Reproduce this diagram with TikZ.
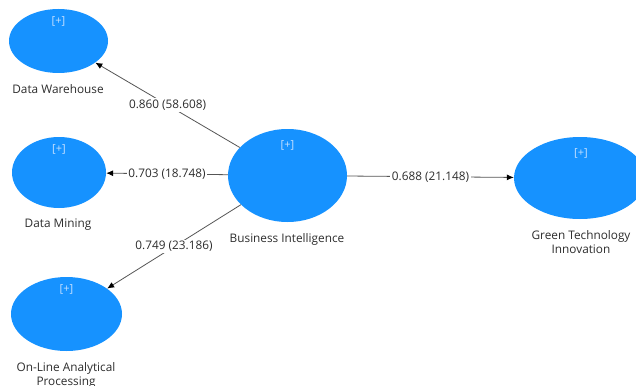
\documentclass[tikz,border=0pt]{standalone}
\usepackage{fontspec}
\setmainfont{Open Sans}
\usetikzlibrary{shapes.geometric,arrows.meta}
\definecolor{lvfill}{RGB}{22,146,255}
\definecolor{plusc}{RGB}{200,226,255}
\definecolor{txt}{RGB}{45,45,45}
\definecolor{linkc}{RGB}{85,85,85}
\tikzset{
  latent/.style={ellipse, fill=lvfill, draw=none, inner sep=0pt},
  plusmark/.style={text=plusc, font=\fontsize{11}{12}\selectfont, inner sep=0pt},
  lvname/.style={text=txt, font=\fontsize{11.8}{14}\selectfont, align=center, inner sep=0pt, anchor=north},
  link/.style={draw=linkc, line width=0.8pt, -{Latex[length=7pt,width=6pt,color=black]}},
  weight/.style={fill=white, text=txt, font=\fontsize{11.8}{14}\selectfont, inner sep=1.5pt}
}
\begin{document}
\begin{tikzpicture}[x=1pt,y=-1pt]
\useasboundingbox (0,0) rectangle (636,385);
\clip (0,0) rectangle (636,385);
\fill[white] (0,0) rectangle (636,385);

% latent variables
\node[latent, minimum width=99pt, minimum height=64pt] (dw) at (58.5,41) {};
\node[latent, minimum width=94pt, minimum height=71pt] (dm) at (59,172.5) {};
\node[latent, minimum width=111pt, minimum height=74pt] (olap) at (66.5,314) {};
\node[latent, minimum width=119pt, minimum height=93pt] (bi) at (287.5,175.5) {};
\node[latent, minimum width=132pt, minimum height=82pt] (gti) at (580,178) {};

% expand markers
\node[plusmark] (dwp) at (58.5,21) {[+]};
\node[plusmark] (dmp) at (59,149) {[+]};
\node[plusmark] (olapp) at (66.5,289) {[+]};
\node[plusmark] (bip) at (287.5,145) {[+]};
\node[plusmark] (gtip) at (581,153) {[+]};

% names
\node[lvname] (dwn) at (58,84.5) {Data Warehouse};
\node[lvname] (dmn) at (58,218.5) {Data Mining};
\node[lvname] (olapn) at (66,362.5) {On-Line Analytical\\Processing};
\node[lvname] (bin) at (287,233.5) {Business Intelligence};
\node[lvname] (gtin) at (581,230.5) {Green Technology\\Innovation};

% paths with coefficients
\draw[link] (bi) -- node[weight] (w1) {0.860 (58.608)} (dw);
\draw[link] (bi) -- node[weight] (w2) {0.703 (18.748)} (dm);
\draw[link] (bi) -- node[weight] (w3) {0.749 (23.186)} (olap);
\draw[link] (bi) -- node[weight] (w4) {0.688 (21.148)} (gti);
\end{tikzpicture}
\end{document}
